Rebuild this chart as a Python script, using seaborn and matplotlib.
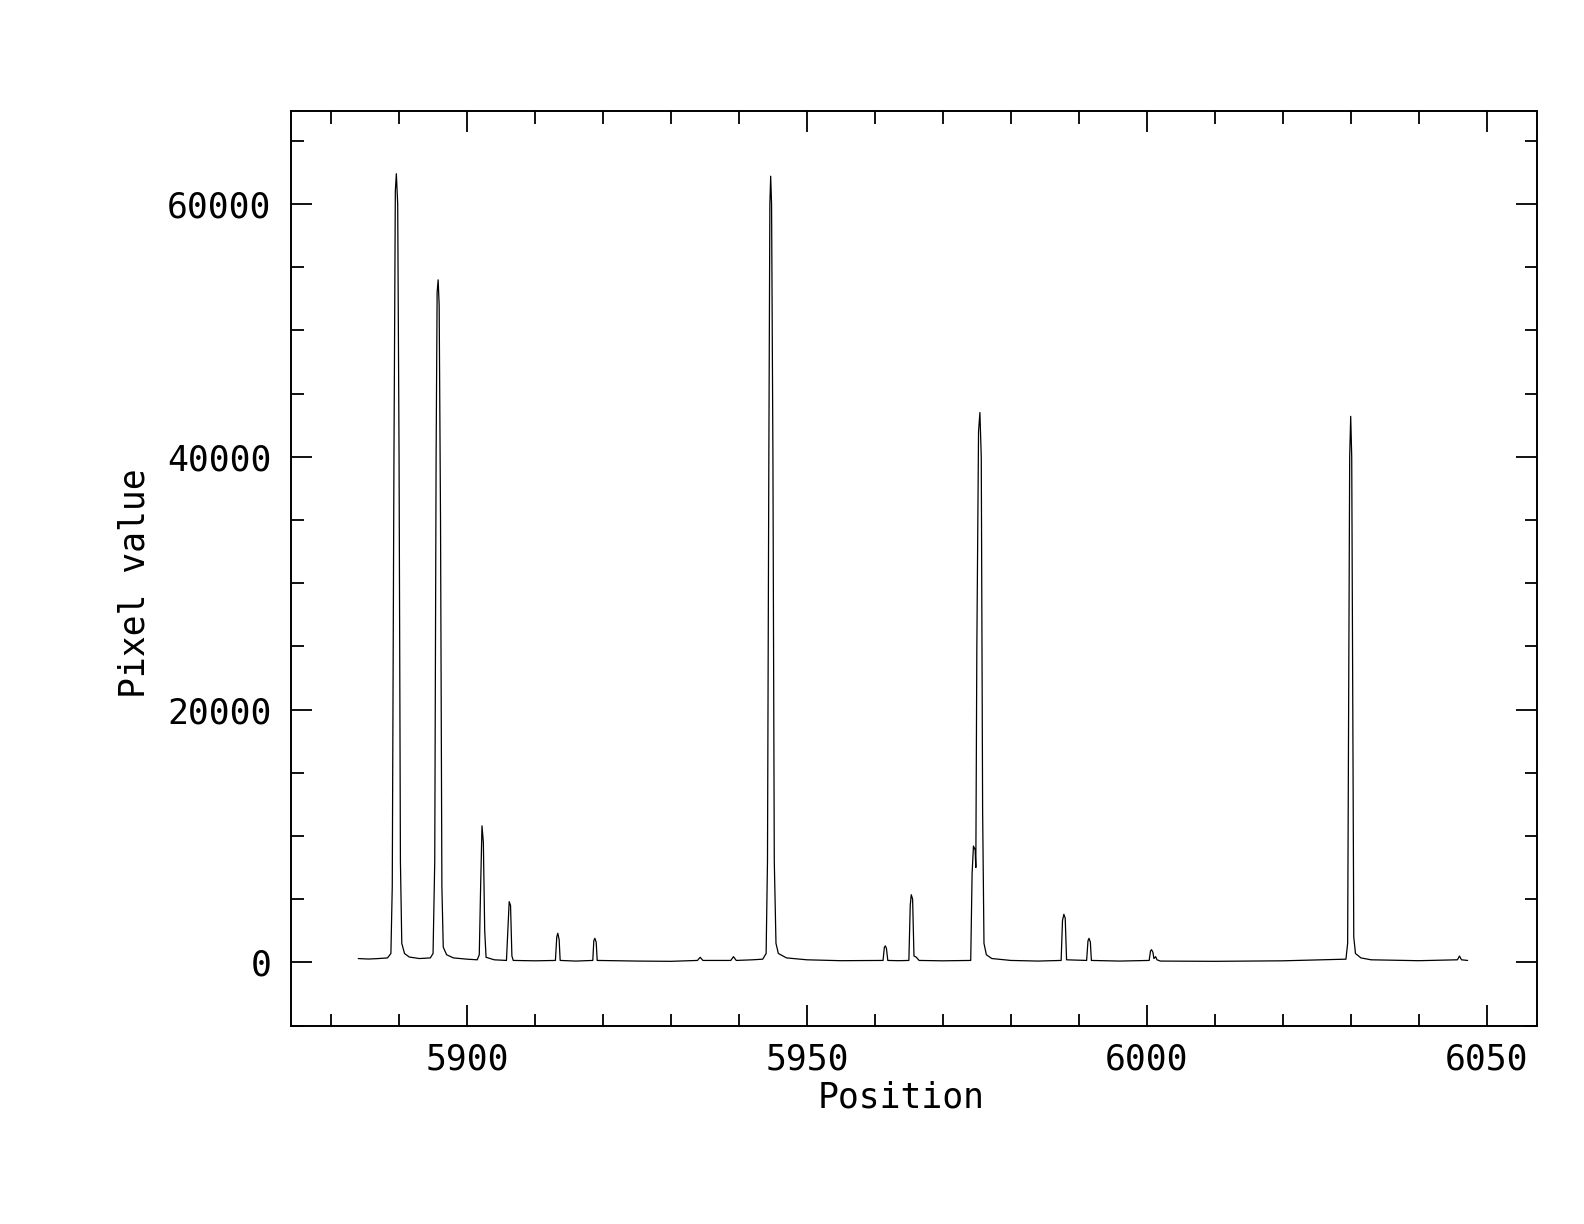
import numpy as np
import pandas as pd
import seaborn as sns
import matplotlib.pyplot as plt
from matplotlib.ticker import MultipleLocator

# Spectrum vertices (position, pixel value)
position = [
    5884.0, 5885.5, 5887.0, 5888.3, 5888.8, 5889.0, 5889.25, 5889.45, 5889.6, 5889.8,
    5890.0, 5890.2, 5890.4, 5890.8, 5891.5, 5893.0, 5894.6, 5895.0, 5895.25, 5895.45,
    5895.6, 5895.75, 5895.9, 5896.1, 5896.3, 5896.5, 5897.0, 5898.0, 5900.0, 5901.5,
    5901.8, 5902.0, 5902.2, 5902.4, 5902.6, 5902.8, 5904.0, 5905.8, 5906.0, 5906.2,
    5906.4, 5906.6, 5906.8, 5910.0, 5913.0, 5913.2, 5913.35, 5913.55, 5913.7, 5916.0,
    5918.5, 5918.65, 5918.8, 5919.0, 5919.15, 5925.0, 5930.0, 5933.9, 5934.3, 5934.7,
    5938.8, 5939.2, 5939.6, 5942.0, 5943.5, 5944.0, 5944.2, 5944.4, 5944.55, 5944.67,
    5944.8, 5945.0, 5945.2, 5945.45, 5945.8, 5947.0, 5950.0, 5955.0, 5961.2, 5961.4,
    5961.55, 5961.7, 5961.9, 5963.5, 5965.0, 5965.2, 5965.35, 5965.55, 5965.75, 5966.1,
    5966.5, 5970.0, 5974.1, 5974.3, 5974.5, 5974.75, 5974.85, 5975.0, 5975.25, 5975.45,
    5975.65, 5975.85, 5976.05, 5976.4, 5977.2, 5980.0, 5984.0, 5987.4, 5987.6, 5987.8,
    5988.0, 5988.2, 5991.15, 5991.35, 5991.5, 5991.7, 5991.85, 5996.0, 6000.35, 6000.55,
    6000.7, 6000.9, 6001.05, 6001.3, 6001.5, 6002.0, 6010.0, 6020.0, 6029.3, 6029.55,
    6029.7, 6029.85, 6030.0, 6030.15, 6030.3, 6030.45, 6030.7, 6031.5, 6033.0, 6040.0,
    6045.7, 6046.0, 6046.3, 6047.2,
]
pixel_value = [
    300, 260, 300, 350, 700, 6000, 40000, 61000, 62400, 60000,
    40000, 8000, 1500, 700, 420, 300, 350, 700, 8000, 40000,
    53000, 54000, 52000, 35000, 6000, 1200, 600, 350, 250, 200,
    600, 6000, 10800, 9500, 2500, 400, 200, 150, 2500, 4800,
    4500, 500, 150, 120, 150, 2000, 2300, 1800, 150, 100,
    150, 1700, 1900, 1600, 150, 100, 80, 150, 400, 150,
    150, 450, 150, 200, 250, 700, 8000, 40000, 60000, 62200,
    60000, 40000, 8000, 1500, 700, 350, 200, 130, 150, 1200,
    1300, 1100, 150, 130, 150, 4500, 5350, 5000, 500, 400,
    150, 120, 150, 7000, 9200, 8900, 7500, 25000, 42000, 43500,
    40000, 12000, 1500, 600, 300, 150, 100, 150, 3300, 3800,
    3500, 200, 150, 1700, 1900, 1600, 150, 100, 150, 900,
    1000, 800, 300, 450, 200, 100, 80, 120, 250, 1500,
    20000, 40000, 43200, 40000, 20000, 2000, 700, 350, 200, 130,
    200, 500, 200, 150,
]

x_ticks = [5900, 5950, 6000, 6050]
y_ticks = [0, 20000, 40000, 60000]

df = pd.DataFrame({'Position': position, 'Pixel value': pixel_value})

sns.set_style('ticks')
plt.rcParams['font.family'] = ['DejaVu Sans Mono', 'DejaVu Sans']
plt.rcParams['text.color'] = 'black'
plt.rcParams['axes.labelcolor'] = 'black'
plt.rcParams['xtick.color'] = 'black'
plt.rcParams['ytick.color'] = 'black'

fig = plt.figure(figsize=(15.84, 12.24), dpi=100)
ax = fig.add_axes([0.1837, 0.1618, 0.7866, 0.7475])

sns.lineplot(data=df, x='Position', y='Pixel value', ax=ax, color='black',
             linewidth=0.9, estimator=None, sort=False)

ax.set_xlim(5874.1, 6057.4)
ax.set_ylim(-5034, 67358)
ax.set_xticks(x_ticks)
ax.set_yticks(y_ticks)
ax.xaxis.set_minor_locator(MultipleLocator(10))
ax.yaxis.set_minor_locator(MultipleLocator(5000))
ax.tick_params(which='both', direction='in', top=True, right=True)
ax.tick_params(which='major', length=15, width=1.3, labelsize=25)
ax.tick_params(which='minor', length=9, width=1.3)
ax.tick_params(axis='x', pad=12)
ax.tick_params(axis='y', pad=14)
for s in ax.spines.values():
    s.set_linewidth(1.4)
    s.set_color('black')

ax.set_xlabel('Position', fontsize=25)
ax.set_ylabel('Pixel value', fontsize=25)
ax.xaxis.set_label_coords(0.49, -0.06)
ax.yaxis.set_label_coords(-0.112, 0.484)

fig.savefig('out.png', dpi=100)
